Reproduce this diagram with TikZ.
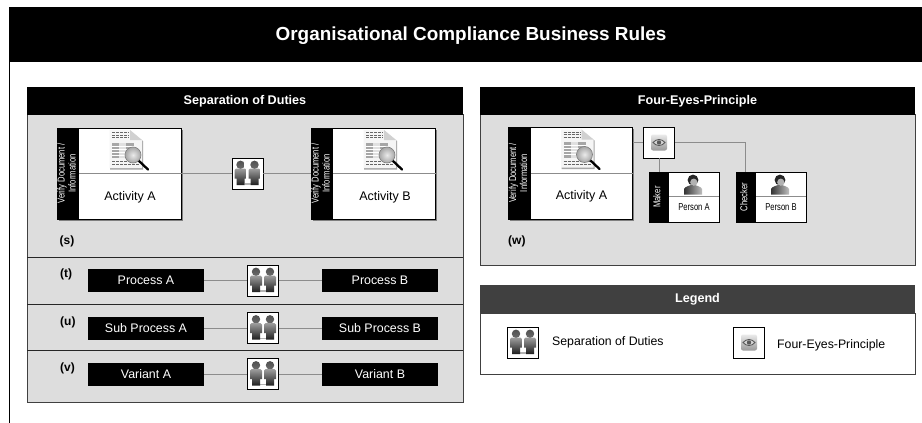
\documentclass[tikz,border=0pt]{standalone}
\usepackage{fontspec}
\usepackage{graphicx}
\setmainfont{Liberation Sans}
\usetikzlibrary{calc}
\definecolor{panelgray}{HTML}{DDDDDD}
\definecolor{linegray}{HTML}{8C8C8C}
\definecolor{legendhead}{HTML}{404040}
\tikzset{
  px/.style={x=1pt,y=-1pt},
  band/.style={fill=black,draw=none,text=white,inner sep=0pt,outer sep=0pt,font=\bfseries},
  panel/.style={fill=panelgray,draw=black!75,line width=.8pt},
  conn/.style={draw=linegray,line width=.9pt},
  rowbox/.style={fill=black,draw=none,text=white,minimum width=116pt,minimum height=23pt,inner sep=0pt,font=\fontsize{12.4}{14}\selectfont},
  iconbox/.style={fill=white,draw=black,line width=.9pt,minimum width=31pt,minimum height=31pt,inner sep=0pt},
  actbox/.style={fill=white,draw=black,line width=1pt,minimum width=124pt,minimum height=91pt,inner sep=0pt},
  actshadow/.style={fill=black!50,draw=none,minimum width=124pt,minimum height=91pt,inner sep=0pt},
  perbox/.style={fill=white,draw=black,line width=.9pt,minimum width=70pt,minimum height=50pt,inner sep=0pt},
  tag/.style={font=\bfseries\fontsize{12}{14}\selectfont,inner sep=0pt,anchor=west},
  side/.style={text=white,rotate=90,inner sep=0pt,font=\fontsize{10}{11}\selectfont},
  legtext/.style={font=\fontsize{12.3}{14}\selectfont,anchor=west,inner sep=0pt},
  headtext/.style={font=\bfseries\fontsize{12.6}{14}\selectfont},
  acttext/.style={inner sep=0pt,font=\fontsize{12.5}{14}\selectfont},
  pertext/.style={inner sep=0pt,font=\fontsize{10}{11}\selectfont}
}
\newcommand{\narrowtxt}[1]{\scalebox{.76}[1]{\begin{tabular}{@{}c@{}}#1\end{tabular}}}
\newcommand{\twomen}[1]{%
  \begin{scope}[shift={(#1)}]
    \fill[black!30] (-3,9.5) rectangle (3,11);
    \foreach \dx in {-7,7}{
      \shade[top color=black!68,bottom color=black!58] (\dx,-8.7) circle (4.2);
      \shade[top color=black!38,middle color=black!55,bottom color=black!88]
        (\dx-6,-3.4) -- (\dx-4.5,-5) -- (\dx+4.5,-5) -- (\dx+6,-3.4) -- (\dx+6,5) -- (\dx+4,5) -- (\dx+4,11.5) -- (\dx-4,11.5) -- (\dx-4,5) -- (\dx-6,5) -- cycle;
    }
  \end{scope}}
\newcommand{\eyeicon}[1]{%
  \begin{scope}[shift={(#1)}]
    \shade[top color=black!8,bottom color=black!40,rounded corners=2pt] (-8,-8) rectangle (8,8);
    \draw[black!65,line width=.9pt,fill=black!15] (-6,0) .. controls (-2.5,-4) and (2.5,-4) .. (6,0) .. controls (2.5,4) and (-2.5,4) .. (-6,0) -- cycle;
    \fill[black!65] (0,0) circle (2.2);
  \end{scope}}
\newcommand{\docicon}[1]{%
  \begin{scope}[shift={(#1)}]
    \fill[black!35] (-16,-17) -- (5,-17) -- (17,-8) -- (17,20.5) -- (-16,20.5) -- cycle;
    \fill[black!4] (-16.5,-19) -- (4,-19) -- (16,-9) -- (16,19) -- (-16.5,19) -- cycle;
    \fill[black!18] (4,-19) -- (4,-9) -- (16,-9) -- cycle;
    \foreach \yy in {-16.5,-14,-11.5}{\draw[black!60,line width=.8pt,dash pattern=on 3pt off 1pt] (-14,\yy) -- (3,\yy);}
    \fill[black!35] (-14,-6.5) rectangle (8,9);
    \fill[black!12] (-7,-6.5) rectangle (0,9);
    \foreach \yy in {-3,0,3,6}{\draw[white,line width=.7pt] (-14,\yy) -- (8,\yy);}
    \foreach \yy in {12.5,15.5}{\draw[black!60,line width=.8pt,dash pattern=on 3pt off 1pt] (-14,\yy) -- (14,\yy);}
    \draw[black,line width=2.3pt,line cap=round] (12,11) -- (22,20.5);
    \shade[inner color=black!8,outer color=black!35,draw=black!50,line width=.6pt] (7,6) circle (8);
  \end{scope}}
\newcommand{\personicon}[1]{%
  \begin{scope}[shift={(#1)}]
    \shade[left color=black!80,right color=black!25]
      (-9,9.5) -- (-9,4) .. controls (-8,1.5) and (-4,1) .. (-2,0) -- (2,0) .. controls (4,1) and (8,1.5) .. (9,4) -- (9,9.5) -- cycle;
    \fill[black!85] (0,-5) circle (5.4);
    \fill[black!30] (0.8,-2.8) circle (3.6);
  \end{scope}}
\begin{document}
\begin{tikzpicture}[px]
\useasboundingbox (0,0) rectangle (922,423);
\fill[white] (0,0) rectangle (922,423);
% page frame and title
\node[band,anchor=north west,minimum width=913pt,minimum height=55pt] (title) at (9,7) {};
\node[text=white,inner sep=0pt,font=\bfseries\fontsize{18.9}{21}\selectfont] (titletext) at (471,35.5) {Organisational Compliance Business Rules};
\draw[black,line width=1pt] (9,7) -- (9,423);

% left panel
\node[panel,anchor=north west,minimum width=436pt,minimum height=288pt,inner sep=0pt] (leftpanel) at (27,114) {};
\node[band,headtext,anchor=north west,minimum width=436pt,minimum height=28.5pt] (lefthead) at (27,86.5) {Separation of Duties};
\draw[black!85,line width=1pt] (27,257) -- (463,257);
\draw[black!85,line width=1pt] (27,304) -- (463,304);
\draw[black!85,line width=1pt] (27,350) -- (463,350);

% right panels
\node[panel,anchor=north west,minimum width=435pt,minimum height=151pt,inner sep=0pt] (rightpanel) at (480,114) {};
\node[band,headtext,anchor=north west,minimum width=435pt,minimum height=28.5pt] (righthead) at (480,86.5) {Four-Eyes-Principle};
\node[fill=white,draw=black!75,line width=.8pt,anchor=north west,minimum width=435pt,minimum height=61pt,inner sep=0pt] (legendbox) at (480,313) {};
\node[band,headtext,fill=legendhead,anchor=north west,minimum width=435pt,minimum height=29pt] (legendhead) at (480,285) {Legend};

% activities with separation of duties
\node[iconbox] (sod) at (247.5,173.5) {};
\node[actshadow] (aShadow) at (121,175.5) {};
\node[actshadow] (bShadow) at (375,175.5) {};
\node[actbox] (actA) at (119,173.5) {};
\node[actbox] (actB) at (373,173.5) {};
\draw[conn] (actA.east) -- (sod);
\draw[conn] (sod) -- (actB.west);
\draw[conn] (actA.west) -- (actA.east);
\draw[conn] (actB.west) -- (actB.east);
\fill[black] (actA.north west) rectangle ($(actA.south west)+(22,0)$);
\fill[black] (actB.north west) rectangle ($(actB.south west)+(22,0)$);
\node[side] at (68,173.5) {\narrowtxt{Verify Document /\\Information}};
\node[side] at (322,173.5) {\narrowtxt{Verify Document /\\Information}};
\docicon{126,149}
\docicon{380,149}
\node[acttext] (labA) at (130,197.5) {Activity A};
\node[acttext] (labB) at (385,197.5) {Activity B};
\twomen{247.5,173.5}
\node[tag] (s) at (59.5,241) {(s)};

% rows
\foreach \nm/\yc/\tagt/\lA/\lB in {t/280.5/(t)/Process A/Process B,u/328/(u)/Sub Process A/Sub Process B,v/374/(v)/Variant A/Variant B}{
  \node[iconbox] (ic\nm) at (263,\yc) {};
  \node[rowbox] (l\nm) at (146,\yc) {\lA};
  \node[rowbox] (r\nm) at (380,\yc) {\lB};
  \draw[conn] (l\nm) -- (ic\nm);
  \draw[conn] (ic\nm) -- (r\nm);
  \twomen{263,\yc}
  \node[tag] (tag\nm) at (60,\yc-6) {\tagt};
}

% four eyes
\node[actshadow,minimum height=92pt] (cShadow) at (572,175) {};
\node[actbox,minimum height=92pt] (actC) at (570,173) {};
\node[iconbox] (eye) at (659,142.5) {};
\node[perbox] (maker) at (684,197) {};
\node[perbox] (checker) at (771,197) {};
\draw[conn] (actC.east|-eye) -- (eye);
\draw[conn] (actC.west) -- (actC.east);
\draw[conn] (eye.east) -| (checker.north-|745.5,0);
\draw[conn] (eye.south) -- (maker.north-|eye);
\fill[black] (actC.north west) rectangle ($(actC.south west)+(23,0)$);
\node[side] at (519.5,173) {\narrowtxt{Verify Document /\\Information}};
\docicon{577.5,148.5}
\node[acttext] (labC) at (581.5,196.5) {Activity A};
\eyeicon{659,142.5}
\foreach \bx/\lab/\who in {maker/Maker/Person A,checker/Checker/Person B}{
  \draw[conn] ($(\bx.west)+(20,-1)$) -- ($(\bx.east)+(0,-1)$);
  \fill[black] (\bx.north west) rectangle ($(\bx.south west)+(20,0)$);
  \node[side] at ($(\bx.west)+(9.5,0)$) {\narrowtxt{\lab}};
  \personicon{$(\bx.center)+(9,-12)$}
  \node[pertext] at ($(\bx.center)+(10,11)$) {\narrowtxt{\who}};
}
\node[tag] (w) at (508,241) {(w)};

% legend
\node[iconbox] (lgA) at (523,342.5) {};
\twomen{523,342.5}
\node[legtext] (lgAt) at (552,342.7) {Separation of Duties};
\node[iconbox] (lgB) at (749,342.5) {};
\eyeicon{749,342.5}
\node[legtext] (lgBt) at (777,345.5) {Four-Eyes-Principle};
\end{tikzpicture}
\end{document}
